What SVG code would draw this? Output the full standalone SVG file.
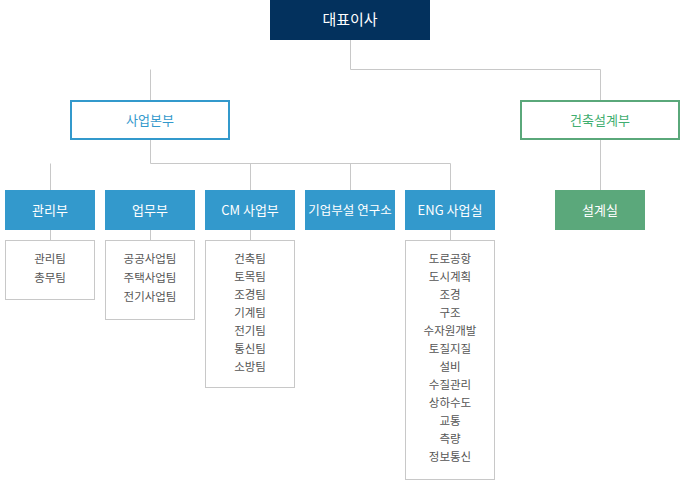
<svg xmlns="http://www.w3.org/2000/svg" width="700" height="480" viewBox="0 0 700 480">
<style>
text{font-family:"Noto Sans CJK KR","Noto Sans",sans-serif;text-anchor:middle}
.h{font-size:13px;fill:#fff}
.s{font-size:11.5px;fill:#555}
.b{fill:#3399cc}
.l{fill:#fff;stroke:#c8c8c8;stroke-width:1}
.c{stroke:#c8c8c8;stroke-width:1;fill:none}
</style>
<rect width="700" height="480" fill="#fff"/>
<g id="connectors">
<path class="c" d="M350.5 40V69.5H600.5V100M150.5 69.5V100M150.5 140V163.5H450.5V190M50.5 163.5V190M250.5 163.5V190M350.5 163.5V190M600.5 140V190M50.5 230V240M150.5 230V240M250.5 230V240M450.5 230V240"/>
</g>
<g id="ceo"><rect x="270" y="0" width="160" height="40" fill="#03315d"/><text class="h" x="350" y="25" font-size="15" style="font-size:15px">대표이사</text></g>
<g id="biz"><rect x="71" y="101" width="158" height="38" fill="#fff" stroke="#3399cc" stroke-width="2"/><text x="150" y="125" style="font-size:13px;fill:#3399cc">사업본부</text></g>
<g id="arch"><rect x="521" y="101" width="158" height="38" fill="#fff" stroke="#5aa87a" stroke-width="2"/><text x="600" y="125" style="font-size:13px;fill:#3fae70">건축설계부</text></g>
<g id="d1"><rect class="b" x="5" y="190" width="90" height="40"/><text class="h" x="50" y="215">관리부</text></g>
<g id="d2"><rect class="b" x="105" y="190" width="90" height="40"/><text class="h" x="150" y="215">업무부</text></g>
<g id="d3"><rect class="b" x="205" y="190" width="90" height="40"/><text class="h" x="250" y="215">CM 사업부</text></g>
<g id="d4"><rect class="b" x="305" y="190" width="90" height="40"/><text class="h" x="350" y="215" style="font-size:12.5px">기업부설 연구소</text></g>
<g id="d5"><rect class="b" x="405" y="190" width="90" height="40"/><text class="h" x="450" y="215">ENG 사업실</text></g>
<g id="d6"><rect x="555" y="190" width="90" height="40" fill="#5ba87b"/><text class="h" x="600" y="215">설계실</text></g>
<g id="t1"><rect class="l" x="5.5" y="240.5" width="89" height="59"/><text class="s" x="50" y="263">관리팀</text><text class="s" x="50" y="282">총무팀</text></g>
<g id="t2"><rect class="l" x="105.5" y="240.5" width="89" height="79"/><text class="s" x="150" y="263">공공사업팀</text><text class="s" x="150" y="282">주택사업팀</text><text class="s" x="150" y="301">전기사업팀</text></g>
<g id="t3"><rect class="l" x="205.5" y="240.5" width="89" height="147"/>
<text class="s" x="250" y="263">건축팀</text><text class="s" x="250" y="281">토목팀</text><text class="s" x="250" y="299">조경팀</text><text class="s" x="250" y="317">기계팀</text><text class="s" x="250" y="335">전기팀</text><text class="s" x="250" y="353">통신팀</text><text class="s" x="250" y="371">소방팀</text></g>
<g id="t5"><rect class="l" x="405.5" y="240.5" width="89" height="239"/>
<text class="s" x="450" y="263">도로공항</text><text class="s" x="450" y="281">도시계획</text><text class="s" x="450" y="299">조경</text><text class="s" x="450" y="317">구조</text><text class="s" x="450" y="335">수자원개발</text><text class="s" x="450" y="353">토질지질</text><text class="s" x="450" y="371">설비</text><text class="s" x="450" y="389">수질관리</text><text class="s" x="450" y="407">상하수도</text><text class="s" x="450" y="425">교통</text><text class="s" x="450" y="443">측량</text><text class="s" x="450" y="461">정보통신</text></g>
</svg>
